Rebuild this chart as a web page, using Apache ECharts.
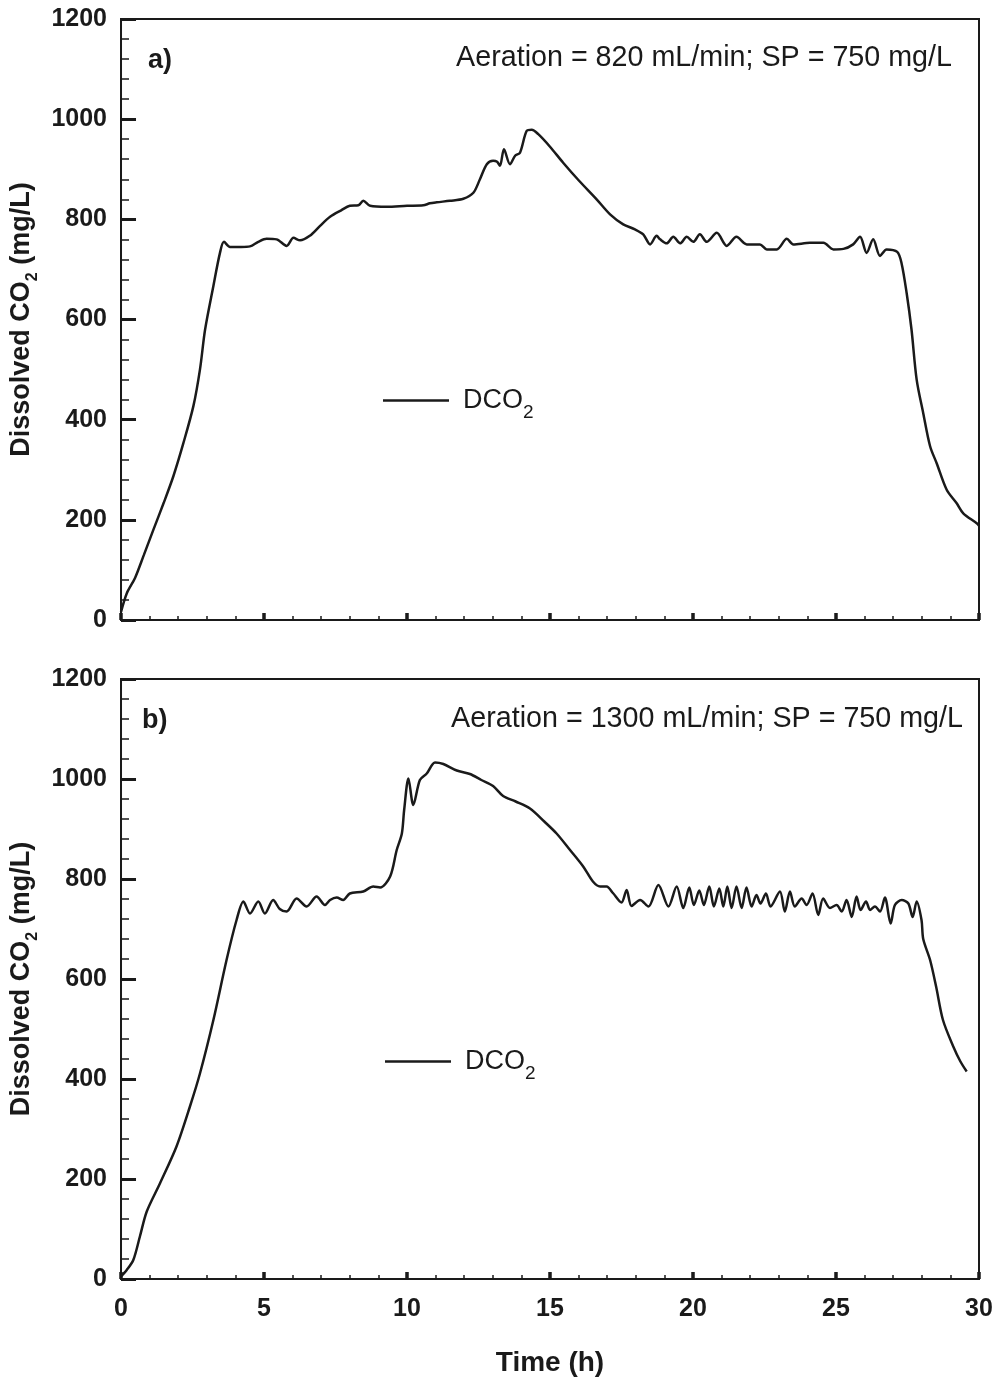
<!DOCTYPE html>
<html>
<head>
<meta charset="utf-8">
<script src="https://cdn.jsdelivr.net/npm/echarts@6/dist/echarts.min.js"></script>
<style>
html,body{margin:0;padding:0;background:#fff;}
#chart{width:1000px;height:1379px;}
</style>
</head>
<body>
<div id="chart"></div>
<script>
// Panel a) Aeration = 820 mL/min
const timeA = [0,0.2,0.49,0.8,1.13,1.5,1.83,2.18,2.53,2.76,2.94,3.23,3.46,3.6,3.81,4.2,4.51,4.8,5.09,5.44,5.79,6.03,6.26,6.6,6.96,7.31,7.7,8.0,8.3,8.47,8.71,9.29,10.0,10.57,10.8,11.04,11.5,11.97,12.32,12.55,12.79,13.01,13.15,13.25,13.39,13.6,13.78,13.95,14.19,14.36,14.59,15.0,15.46,16.0,16.63,17.1,17.56,17.97,18.26,18.5,18.73,18.85,19.08,19.31,19.55,19.78,20.01,20.24,20.48,20.83,21.18,21.52,21.88,22.34,22.58,22.93,23.28,23.51,24.09,24.56,24.91,25.26,25.6,25.84,26.07,26.3,26.54,26.77,27.14,27.29,27.47,27.64,27.82,28.05,28.29,28.52,28.87,29.22,29.45,29.92,30.0];
const dco2A = [16,53,84,130,180,235,287,353,427,500,580,667,733,755,745,745,746,755,761,760,747,763,758,767,787,805,818,827,828,837,827,825,827,828,832,834,837,841,853,880,910,917,915,907,940,910,927,933,977,979,970,945,913,878,840,810,790,780,770,750,767,760,752,765,752,765,755,770,755,773,747,765,750,750,740,740,761,750,753,753,740,741,750,765,733,760,727,740,735,713,653,580,480,413,347,313,260,233,213,193,188];

// Panel b) Aeration = 1300 mL/min
const timeB = [0,0.2,0.43,0.66,0.9,1.36,1.94,2.41,2.76,3.23,3.69,4.04,4.28,4.51,4.8,5.03,5.32,5.55,5.79,6.14,6.49,6.84,7.13,7.31,7.54,7.77,8.0,8.47,8.82,9.06,9.41,9.64,9.82,9.9,10.05,10.22,10.45,10.69,10.98,11.27,11.74,12.2,12.6,13.01,13.36,13.8,14.3,14.8,15.23,15.7,16.16,16.5,16.75,16.98,17.2,17.5,17.68,17.85,18.15,18.44,18.79,19.14,19.43,19.66,19.87,20.03,20.22,20.38,20.57,20.73,20.92,21.06,21.2,21.35,21.52,21.7,21.87,22.05,22.22,22.36,22.55,22.71,23.04,23.21,23.39,23.56,23.8,23.97,24.18,24.38,24.55,24.79,25.02,25.2,25.37,25.55,25.72,25.86,26.05,26.19,26.36,26.54,26.71,26.91,27.06,27.3,27.53,27.68,27.82,27.99,28.05,28.29,28.5,28.74,29.1,29.35,29.57];
const dco2B = [5,18,38,85,135,191,265,345,411,518,638,718,755,731,755,731,758,740,735,761,745,765,748,758,763,758,771,775,785,783,805,858,891,938,1001,948,998,1011,1033,1030,1017,1010,998,986,966,955,941,915,891,858,825,795,785,785,772,753,778,746,758,745,788,745,785,742,783,748,777,748,785,745,781,745,785,742,785,742,783,745,768,751,771,745,775,735,775,745,761,748,771,728,761,742,748,735,758,724,765,738,755,738,745,735,763,711,748,758,751,724,755,718,680,638,585,518,465,435,415];

const xTicks = [0,5,10,15,20,25,30];
const yTicks = [0,200,400,600,800,1000,1200];
const seriesName = 'DCO2';
const annotA = 'Aeration = 820 mL/min; SP = 750 mg/L';
const annotB = 'Aeration = 1300 mL/min; SP = 750 mg/L';

const FONT = '"Liberation Sans", Arial, Helvetica, sans-serif';
const INK = '#1a1a1a';

const chart = echarts.init(document.getElementById('chart'), null, {renderer:'canvas'});

function xAxisCfg(gridIndex, showLabels){
  return {
    type:'value', gridIndex, min:xTicks[0], max:xTicks[xTicks.length-1], interval:5,
    axisLine:{show:true, onZero:false, lineStyle:{color:INK, width:2}},
    axisTick:{show:true, inside:true, length:7, lineStyle:{color:INK, width:3.5}},
    minorTick:{show:true, splitNumber:5, length:4, lineStyle:{color:INK, width:1.5}},
    splitLine:{show:false},
    axisLabel:{show:showLabels, color:INK, fontFamily:FONT, fontWeight:'bold', fontSize:25, margin:18,
      formatter:(v)=>String(v)},
    name: showLabels ? 'Time (h)' : '',
    nameLocation:'middle', nameGap:70,
    nameTextStyle:{color:INK, fontFamily:FONT, fontWeight:'bold', fontSize:28}
  };
}
function yAxisCfg(gridIndex){
  return {
    type:'value', gridIndex, min:yTicks[0], max:yTicks[yTicks.length-1], interval:200,
    axisLine:{show:true, lineStyle:{color:INK, width:2}},
    axisTick:{show:true, inside:true, length:15, lineStyle:{color:INK, width:3}},
    minorTick:{show:true, splitNumber:5, length:8, lineStyle:{color:INK, width:1.5}},
    splitLine:{show:false},
    axisLabel:{color:INK, fontFamily:FONT, fontWeight:'bold', fontSize:25, margin:14,
      formatter:(v)=>String(v)},
    name:'{n|Dissolved CO}{s|2}{n| (mg/L)}',
    nameLocation:'middle', nameRotate:90, nameGap:70,
    nameTextStyle:{
      color:INK, fontFamily:FONT, fontWeight:'bold', fontSize:27,
      rich:{
        n:{color:INK, fontFamily:FONT, fontWeight:'bold', fontSize:27, lineHeight:38},
        s:{color:INK, fontFamily:FONT, fontWeight:'bold', fontSize:16, lineHeight:16, verticalAlign:'bottom'}
      }
    }
  };
}
function legendCfg(left, top){
  return {
    show:true, left, top, padding:0, data:[{name:seriesName, icon:'rect'}],
    itemWidth:66, itemHeight:2.5, itemGap:0,
    selectedMode:false,
    formatter: () => '{n|DCO}{s|2}',
    textStyle:{
      color:INK, fontFamily:FONT, fontSize:27, padding:[0,0,0,9],
      rich:{
        n:{color:INK, fontFamily:FONT, fontSize:27, lineHeight:44},
        s:{color:INK, fontFamily:FONT, fontSize:19, lineHeight:19, verticalAlign:'bottom'}
      }
    }
  };
}
function lineSeries(idx, t, v){
  return {
    name:seriesName, type:'line', xAxisIndex:idx, yAxisIndex:idx,
    data:t.map((x,i)=>[x, v[i]]),
    showSymbol:false, symbol:'none', smooth:0.3,
    lineStyle:{color:INK, width:2.5}, itemStyle:{color:INK},
    animation:false
  };
}

const option = {
  backgroundColor:'#ffffff',
  animation:false,
  grid:[
    {left:121, top:19, width:858, height:601, show:true, borderColor:INK, borderWidth:2, backgroundColor:'transparent'},
    {left:121, top:679, width:858, height:600, show:true, borderColor:INK, borderWidth:2, backgroundColor:'transparent'}
  ],
  xAxis:[xAxisCfg(0,false), xAxisCfg(1,true)],
  yAxis:[yAxisCfg(0), yAxisCfg(1)],
  legend:[legendCfg(383, 387), legendCfg(385, 1048)],
  series:[lineSeries(0,timeA,dco2A), lineSeries(1,timeB,dco2B)],
  graphic:[
    {type:'text', x:148, y:61, style:{text:'a)', fill:INK, font:'bold 27px '+FONT, align:'left', verticalAlign:'middle'}},
    {type:'text', x:952, y:58, style:{text:annotA, fill:INK, font:'28.7px '+FONT, align:'right', verticalAlign:'middle'}},
    {type:'text', x:142, y:721, style:{text:'b)', fill:INK, font:'bold 27px '+FONT, align:'left', verticalAlign:'middle'}},
    {type:'text', x:963, y:719, style:{text:annotB, fill:INK, font:'28.7px '+FONT, align:'right', verticalAlign:'middle'}}
  ]
};
chart.setOption(option);
</script>
</body>
</html>
